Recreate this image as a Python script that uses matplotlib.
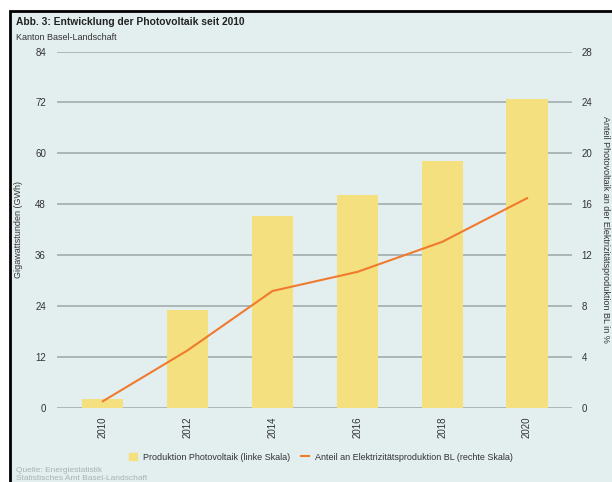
import matplotlib.pyplot as plt
import matplotlib.patches as mpatches
from matplotlib.lines import Line2D
import numpy as np

plt.rcParams['font.family'] = ['Liberation Sans', 'DejaVu Sans']

years = ['2010', '2012', '2014', '2016', '2018', '2020']
produktion_gwh = [2.05, 23.0, 45.3, 50.3, 58.2, 72.9]
anteil_pct = [0.53, 4.53, 9.19, 10.69, 13.05, 16.48]

bg = '#e3efef'
bar_col = '#f4e07e'
line_col = '#f07a2e'
grid_col = '#9ea7a7'
txt_col = '#333333'

fig = plt.figure(figsize=(6.12, 4.82), dpi=100, facecolor='white')

# framed panel (screenshot crop: only top and left edge visible)
frame = mpatches.Rectangle((9.5 / 612, -0.05), 1.2, (482 - 10.5) / 482 + 0.05,
                           transform=fig.transFigure, facecolor=bg,
                           edgecolor='black', linewidth=2, zorder=-5)
fig.patches.append(frame)

ax = fig.add_axes([57 / 612, 74 / 482, 515 / 612, 356.5 / 482])
ax.set_facecolor('none')
x = np.arange(len(years))

ax.set_ylim(0, 84)
ax.set_yticks(np.arange(0, 85, 12))
ax.yaxis.grid(True, color=grid_col, linewidth=1.1)
ax.set_axisbelow(True)
ax.bar(x, produktion_gwh, width=0.485, color=bar_col, zorder=2)
ax.set_xlim(-0.54, 5.53)
ax.set_xticks(x)
ax.set_xticklabels(years, rotation=90, fontsize=7, color=txt_col)
for s in ax.spines.values():
    s.set_visible(False)
ax.tick_params(axis='both', length=0, labelsize=7, colors=txt_col)
ax.tick_params(axis='y', pad=8)
ax.tick_params(axis='x', pad=6)
ax.set_ylabel('Gigawattstunden (GWh)', fontsize=6.5, color=txt_col)
ax.yaxis.set_label_coords(-0.066, 0.5)

ax2 = ax.twinx()
ax2.set_ylim(0, 28)
ax2.set_yticks(np.arange(0, 29, 4))
ax2.plot(x, anteil_pct, color=line_col, linewidth=1.5, zorder=3)
for s in ax2.spines.values():
    s.set_visible(False)
ax2.tick_params(axis='y', length=0, labelsize=7, colors=txt_col, pad=7)
ax2.set_ylabel('Anteil Photovoltaik an der Elektrizitätsproduktion BL in %',
               fontsize=6.5, color=txt_col, rotation=270, va='center')
ax2.yaxis.set_label_coords(1.066, 0.5)

fig.text(16 / 612, 1 - 22 / 482, 'Abb. 3: Entwicklung der Photovoltaik seit 2010',
         fontsize=7.4, fontweight='bold', color='#222222', va='center')
fig.text(16 / 612, 1 - 37 / 482, 'Kanton Basel-Landschaft',
         fontsize=6.5, color=txt_col, va='center')

handles = [mpatches.Patch(color=bar_col, label='Produktion Photovoltaik (linke Skala)'),
           Line2D([], [], color=line_col, linewidth=1.5,
                  label='Anteil an Elektrizitätsproduktion BL (rechte Skala)')]
fig.legend(handles=handles, loc='center', bbox_to_anchor=(321 / 612, 1 - 457 / 482),
           ncol=2, frameon=False, fontsize=6.5, handlelength=0.9, handleheight=0.9,
           columnspacing=1.2, handletextpad=0.7, labelcolor=txt_col)

fig.text(16 / 612, 1 - 470 / 482, 'Quelle: Energiestatistik',
         fontsize=6, color='#a8b2b2', va='center')
fig.text(16 / 612, 1 - 479 / 482, 'Statistisches Amt Basel-Landschaft',
         fontsize=6, color='#a8b2b2', va='center')

fig.savefig('out.png', dpi=100, facecolor='white')
